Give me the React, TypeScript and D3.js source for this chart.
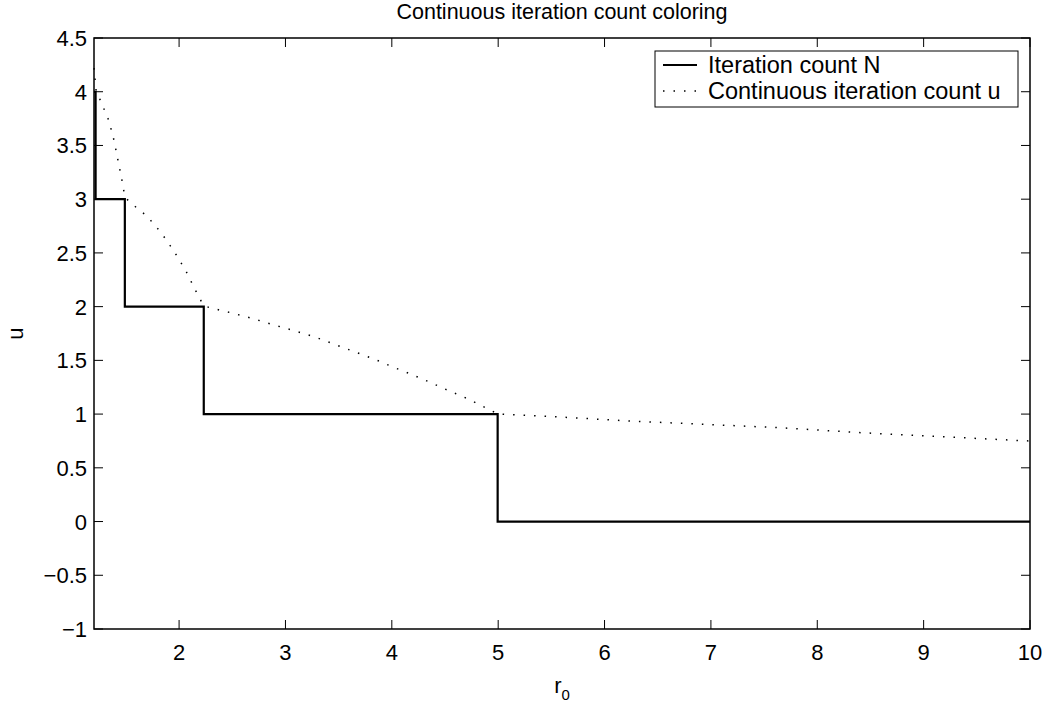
import React from "react";
import * as d3 from "d3";

const xTicks = [2, 3, 4, 5, 6, 7, 8, 9, 10];
const yTicks = [-1, -0.5, 0, 0.5, 1, 1.5, 2, 2.5, 3, 3.5, 4, 4.5];

// Iteration count N (step function)
const stepX = [1.2, 1.215, 1.49, 2.232, 4.995, 10];
const stepN = [4, 3, 2, 1, 0, 0];

// Continuous iteration count u
const contX = [1.2, 1.22, 1.26, 1.34, 1.39, 1.43, 1.47, 1.49, 1.54, 1.7, 1.83, 1.95, 2.06, 2.17, 2.23, 2.29, 2.5, 2.69, 2.89, 3.07, 3.27, 3.46, 3.65, 3.84, 4.03, 4.16, 4.35, 4.53, 4.72, 4.9, 5.0, 5.55, 6.24, 6.96, 7.65, 8.43, 9.94, 10.0];
const contU = [4.22, 4.01, 3.92, 3.73, 3.54, 3.34, 3.14, 3.02, 2.97, 2.84, 2.69, 2.52, 2.34, 2.12, 2.01, 1.99, 1.94, 1.89, 1.83, 1.78, 1.72, 1.65, 1.58, 1.51, 1.43, 1.38, 1.3, 1.22, 1.14, 1.05, 1.0, 0.975, 0.935, 0.904, 0.873, 0.826, 0.752, 0.75];

const legendLabels = ["Iteration count N", "Continuous iteration count u"];

const W = 1051, H = 706;
const L = 94, R = 1030, T = 38, B = 629;
const FONT = "'Liberation Sans', Arial, Helvetica, sans-serif";
const FS = 22;

export default function App() {
  const x = d3.scaleLinear().domain([1.2, 10]).range([L, R]);
  const y = d3.scaleLinear().domain([-1, 4.5]).range([B, T]);

  const stepPts: [number, number][] = stepX.map((v, i) => [v, stepN[i]]);
  const contPts: [number, number][] = contX.map((v, i) => [v, contU[i]]);

  const stepLine = d3.line<[number, number]>().x(d => x(d[0])).y(d => y(d[1])).curve(d3.curveStepAfter);
  const contLine = d3.line<[number, number]>().x(d => x(d[0])).y(d => y(d[1]));

  const tick = 9;

  return (
    <svg width={W} height={H} style={{ position: "absolute", left: 0, top: 0, background: "#fff" }} fontFamily={FONT}>
      <rect x={0} y={0} width={W} height={H} fill="#fff" />
      <text x={(L + R) / 2} y={19} textAnchor="middle" fontSize={21.5}>Continuous iteration count coloring</text>

      {/* data */}
      <path d={contLine(contPts) || ""} fill="none" stroke="#000" strokeWidth={1.5} strokeDasharray="1.5 9" />
      <path d={stepLine(stepPts) || ""} fill="none" stroke="#000" strokeWidth={2.2} />

      {/* axes box */}
      <rect x={L} y={T} width={R - L} height={B - T} fill="none" stroke="#000" strokeWidth={1.5} />

      {xTicks.map(t => (
        <g key={"x" + t}>
          <line x1={x(t)} x2={x(t)} y1={B} y2={B - tick} stroke="#000" strokeWidth={1} />
          <line x1={x(t)} x2={x(t)} y1={T} y2={T + tick} stroke="#000" strokeWidth={1} />
          <text x={x(t)} y={660} textAnchor="middle" fontSize={FS}>{t}</text>
        </g>
      ))}
      {yTicks.map(t => (
        <g key={"y" + t}>
          <line x1={L} x2={L + tick} y1={y(t)} y2={y(t)} stroke="#000" strokeWidth={1} />
          <line x1={R} x2={R - tick} y1={y(t)} y2={y(t)} stroke="#000" strokeWidth={1} />
          <text x={87} y={y(t) + 8} textAnchor="end" fontSize={FS}>{t < 0 ? "\u2212" + Math.abs(t) : String(t)}</text>
        </g>
      ))}

      <text transform={`translate(23,${(T + B) / 2}) rotate(-90)`} textAnchor="middle" fontSize={FS}>u</text>
      <text x={(L + R) / 2} y={693} textAnchor="middle" fontSize={FS}>
        r<tspan fontSize={15} dy={7}>0</tspan>
      </text>

      {/* legend */}
      <rect x={655} y={51} width={363} height={56} fill="#fff" stroke="#000" strokeWidth={1} />
      <line x1={663} x2={697} y1={65} y2={65} stroke="#000" strokeWidth={2.2} />
      <line x1={663} x2={697} y1={91} y2={91} stroke="#000" strokeWidth={1.5} strokeDasharray="1.5 9" />
      <text x={708} y={73} fontSize={23.5}>{legendLabels[0]}</text>
      <text x={708} y={99} fontSize={23.5}>{legendLabels[1]}</text>
    </svg>
  );
}
